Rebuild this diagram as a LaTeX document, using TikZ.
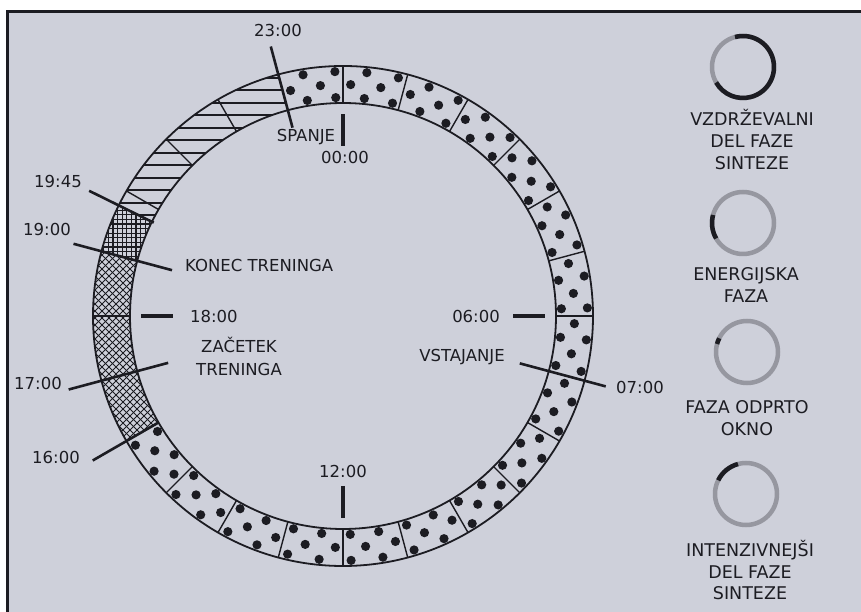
\documentclass[tikz,border=0pt]{standalone}
\usepackage{fontspec}
\setmainfont{DejaVu Sans}
\usetikzlibrary{positioning, calc}

\definecolor{paper}{RGB}{206,208,218}
\definecolor{ink}{RGB}{28,28,34}
\definecolor{ringgray}{RGB}{150,151,160}

\begin{document}
\begin{tikzpicture}[
    x=1pt, y=1pt,
    rim/.style={draw=ink, line width=1.8pt},
    divider/.style={draw=ink, line width=1.4pt},
    leader/.style={draw=ink, line width=2.6pt},
    tick/.style={draw=ink, line width=4pt},
    hatch/.style={draw=ink, line width=2pt},
    mesh/.style={draw=ink, line width=0.8pt},
    dot/.style={fill=ink},
    lbl/.style={font=\fontsize{16.5}{19}\selectfont, text=ink, inner sep=0pt},
    legend/.style={font=\fontsize{17.5}{22}\selectfont, text=ink, align=center, inner sep=0pt},
    phasering/.style={draw=ringgray, line width=4.5pt},
    phasearc/.style={draw=ink, line width=4.5pt},
    sector/.style 2 args={insert path={(#1:213) arc[start angle=#1, end angle=#2, radius=213]
        -- (#2:250) arc[start angle=#2, end angle=#1, radius=250] -- cycle}}
]

% paper and frame
\useasboundingbox (-343,-296) rectangle (518,316);
\fill[white] (-343,-296) rectangle (518,316);
\fill[paper] (-335,-296) rectangle (518,304);
\draw[ink, line width=3pt] (-335,-296) -- (-335,304) -- (518,304);

% sleep / synthesis part: dots
\begin{scope}
  \clip[sector={-150}{105}];
  \foreach \a in {-150,-142.5,...,105} {
    \fill[dot] ({\a+1.9}:218.5) circle (4.6);
    \fill[dot] ({\a+5.6}:231.5) circle (4.6);
    \fill[dot] ({\a+1.9}:244.5) circle (4.6);
  }
\end{scope}

% intensive part: horizontal hatch
\begin{scope}
  \clip[sector={105}{153.75}];
  \foreach \y in {88,100.5,...,250}
    \draw[hatch] (-260,\y) -- (0,\y);
\end{scope}

% open window: fine grid
\begin{scope}
  \clip[sector={153.75}{165}];
  \draw[ink, line width=1.1pt, step=4.6pt] (-260,40) grid (-180,120);
\end{scope}

% energy phase: diagonal mesh
\begin{scope}
  \clip[sector={165}{210}];
  \foreach \c in {50,57,...,330}
    \draw[mesh] (-260,{\c-260}) -- (-170,{\c-170});
  \foreach \d in {-390,-383,...,-100}
    \draw[mesh] (-260,{\d+260}) -- (-170,{\d+170});
\end{scope}

% ring
\draw[rim] (0,0) circle (250);
\draw[rim] (0,0) circle (213);
\foreach \h in {0,...,23}
  \draw[divider] ({90-15*\h}:213) -- ({90-15*\h}:250);
\draw[divider] (153.75:213) -- (153.75:250);

% hour ticks
\coordinate (k0a) at (90:170);  \coordinate (k0b) at (90:202);
\coordinate (k6a) at (0:170);   \coordinate (k6b) at (0:202);
\coordinate (k12a) at (270:170); \coordinate (k12b) at (270:202);
\coordinate (k18a) at (180:170); \coordinate (k18b) at (180:202);
\draw[tick] (k0a) -- (k0b);
\draw[tick] (k6a) -- (k6b);
\draw[tick] (k12a) -- (k12b);
\draw[tick] (k18a) -- (k18b);

\node[lbl] (l0) at (2,159) {00:00};
\node[lbl, anchor=east] (l6) at (157,0) {06:00};
\node[lbl] (l12) at (0,-155) {12:00};
\node[lbl, anchor=west] (l18) at (-153,0) {18:00};

% leader lines
\coordinate (e23o) at (105:279);    \coordinate (e23i) at (105:195);
\coordinate (e1945o) at (153.75:283); \coordinate (e1945i) at (153.75:211);
\coordinate (e19o) at (165:279);    \coordinate (e19i) at (165:177);
\coordinate (e17o) at (195:284);    \coordinate (e17i) at (195:181);
\coordinate (e16o) at (210:289);    \coordinate (e16i) at (210:213);
\coordinate (e7o) at (-15:272);     \coordinate (e7i) at (-15:183);
\draw[leader] (e23o) -- (e23i);
\draw[leader] (e1945o) -- (e1945i);
\draw[leader] (e19o) -- (e19i);
\draw[leader] (e17o) -- (e17i);
\draw[leader] (e16o) -- (e16i);
\draw[leader] (e7o) -- (e7i);

\node[lbl] (l23) at (-65,285) {23:00};
\node[lbl] (spanje) at (-37,179) {SPANJE};
\node[lbl] (l1945) at (-285,135) {19:45};
\node[lbl] (l19) at (-296,87) {19:00};
\node[lbl, anchor=west] (konec) at (-158,51) {KONEC TRENINGA};
\node[lbl, align=center, font=\fontsize{16.5}{23}\selectfont] (zacetek) at (-104,-40) {ZAČETEK\\TRENINGA};
\node[lbl] (l17) at (-305,-67) {17:00};
\node[lbl] (l16) at (-287,-141) {16:00};
\node[lbl] (vstajanje) at (119,-41) {VSTAJANJE};
\node[lbl] (l7) at (297,-71) {07:00};

% legend
\coordinate (ic1) at (400,249);
\coordinate (ic2) at (400,93);
\coordinate (ic3) at (404,-36);
\coordinate (ic4) at (403,-178);
\foreach \c in {ic1,ic2,ic3,ic4}
  \draw[phasering] (\c) circle (31);
\draw[phasearc] ([shift={(105:31)}]ic1) arc[start angle=105, end angle=-150, radius=31];
\draw[phasearc] ([shift={(165:31)}]ic2) arc[start angle=165, end angle=210, radius=31];
\draw[phasearc] ([shift={(153.75:31)}]ic3) arc[start angle=153.75, end angle=165, radius=31];
\draw[phasearc] ([shift={(105:31)}]ic4) arc[start angle=105, end angle=153.75, radius=31];

\node[legend] (t1) at (409,176) {VZDRŽEVALNI\\DEL FAZE\\SINTEZE};
\node[legend] (t2) at (403,31) {ENERGIJSKA\\FAZA};
\node[legend] (t3) at (404,-102) {FAZA ODPRTO\\OKNO};
\node[legend] (t4) at (407,-254) {INTENZIVNEJŠI\\DEL FAZE\\SINTEZE};

\end{tikzpicture}
\end{document}
